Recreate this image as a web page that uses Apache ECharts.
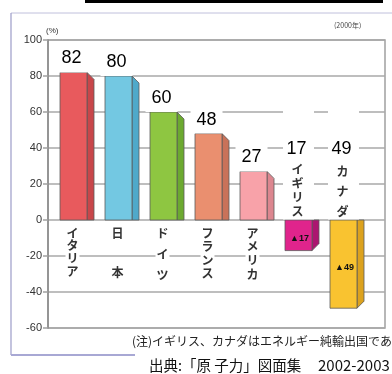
<!DOCTYPE html>
<html><head><meta charset="utf-8">
<script src="https://cdn.jsdelivr.net/npm/echarts@6/dist/echarts.min.js"></script>
<style>html,body{margin:0;padding:0;background:#fff}#c{width:392px;height:374px}</style>
</head><body><div id="c"></div>
<script>
// ---- data ----
const categories = ['イタリア', '日本', 'ドイツ', 'フランス', 'アメリカ', 'イギリス', 'カナダ'];
const values = [82, 80, 60, 48, 27, -17, -49];
const valueLabels = ['82', '80', '60', '48', '27', '17', '49'];
const innerLabels = ['', '', '', '', '', '▲17', '▲49'];
const yMin = -60, yMax = 100, yStep = 20;
const unitLabel = '(%)';
const yearLabel = '(2000年)';
const noteText = '(注)イギリス、カナダはエネルギー純輸出国である。';
const sourceText = '出典:「原 子力」図面集';
const sourceYears = '2002-2003';

// ---- styles ----
const faceColors = ['#e85a5d', '#73c8e2', '#8ec641', '#ea8f6f', '#f8a2a9', '#e0248c', '#f9c330'];
const sideColors = ['#c8464a', '#4fa9ca', '#6ca930', '#c97259', '#dc868f', '#ac1670', '#dca21e'];
const charSpacing = [12.7, 39, 21, 13.5, 13.7, 14, 20];
const CJK = '"Noto Sans CJK JP", "Noto Sans", sans-serif';
const LAT = '"Liberation Sans", Arial, sans-serif';

const chart = echarts.init(document.getElementById('c'), null, {renderer: 'canvas'});

function renderItem(params, api) {
  const i = api.value(0), v = api.value(1);
  const p0 = api.coord([i, 0]);
  const pv = api.coord([i, v]);
  const cx = p0[0];
  const y0 = p0[1], yv = pv[1];
  const fw = 27, d = 7;
  const x0 = cx - 17.5, x1 = x0 + fw, fc = x0 + fw / 2;
  const stroke = '#5a5a5a';
  const kids = [];
  if (v >= 0) {
    kids.push({type: 'polygon', shape: {points: [[x1, yv], [x1 + d, yv + d], [x1 + d, y0], [x1, y0]]},
      style: {fill: sideColors[i], stroke: stroke, lineWidth: 0.8}});
    kids.push({type: 'rect', shape: {x: x0, y: yv, width: fw, height: y0 - yv},
      style: {fill: faceColors[i], stroke: stroke, lineWidth: 0.8}});
    kids.push({type: 'text', style: {x: fc - 2, y: yv - 14, text: valueLabels[i], font: '18px ' + LAT,
      fill: '#000', align: 'center', verticalAlign: 'middle', backgroundColor: '#fff', padding: [5, 6, 5, 6]}});
    const chars = Array.from(categories[i]);
    chars.forEach((ch, k) => {
      kids.push({type: 'text', style: {x: fc - 1, y: y0 + 13 + k * charSpacing[i], text: ch,
        font: 'bold 12px ' + CJK, fill: '#333', align: 'center', verticalAlign: 'middle',
        backgroundColor: '#fff', padding: [0, 1]}});
    });
  } else {
    kids.push({type: 'polygon', shape: {points: [[x1, y0], [x1 + d, y0], [x1 + d, yv - d], [x1, yv]]},
      style: {fill: sideColors[i], stroke: stroke, lineWidth: 0.8}});
    kids.push({type: 'rect', shape: {x: x0, y: y0, width: fw, height: yv - y0},
      style: {fill: faceColors[i], stroke: stroke, lineWidth: 0.8}});
    kids.push({type: 'rect', shape: {x: x0 - 2, y: y0 - 109, width: fw + 4, height: 108.5},
      style: {fill: '#fff'}});
    kids.push({type: 'text', style: {x: fc - 2, y: y0 - 71, text: valueLabels[i], font: '18px ' + LAT,
      fill: '#000', align: 'center', verticalAlign: 'middle'}});
    const chars = Array.from(categories[i]);
    const n = chars.length;
    chars.forEach((ch, k) => {
      kids.push({type: 'text', style: {x: fc - 1, y: y0 - 9 - (n - 1 - k) * charSpacing[i], text: ch,
        font: 'bold 12px ' + CJK, fill: '#333', align: 'center', verticalAlign: 'middle'}});
    });
    kids.push({type: 'text', style: {x: fc + 1, y: (y0 + yv) / 2 + 3, text: innerLabels[i],
      font: 'bold 9px ' + LAT, fill: '#111', align: 'center', verticalAlign: 'middle'}});
  }
  return {type: 'group', children: kids};
}

const option = {
  animation: false,
  backgroundColor: '#fff',
  grid: [
    {left: 48, right: 7, top: 40, bottom: 46, show: true, borderColor: '#a0a0a0', borderWidth: 1.5, backgroundColor: '#fff'},
    {left: 55, right: 22, top: 40, bottom: 46}
  ],
  xAxis: [
    {gridIndex: 0, type: 'category', data: [''], show: false},
    {gridIndex: 1, type: 'category', data: categories, show: false}
  ],
  yAxis: [
    {gridIndex: 0, type: 'value', min: yMin, max: yMax, interval: yStep,
      axisLine: {show: true, lineStyle: {color: '#8a8a8a', width: 1.5}},
      axisTick: {show: true, length: 5, lineStyle: {color: '#a0a0a0', width: 1.5}},
      splitLine: {lineStyle: {color: '#a8a8a8', width: 1.5}},
      axisLabel: {color: '#333', fontSize: 11, fontFamily: LAT, margin: 6}},
    {gridIndex: 1, type: 'value', min: yMin, max: yMax, interval: yStep, show: false, splitLine: {show: false}}
  ],
  series: [{
    type: 'custom', xAxisIndex: 1, yAxisIndex: 1, clip: false,
    data: values.map((v, i) => [i, v]),
    encode: {x: 0, y: 1},
    renderItem: renderItem
  }],
  graphic: [
    {type: 'rect', shape: {x: 85, y: 0, width: 298, height: 3}, style: {fill: '#000'}},
    {type: 'line', shape: {x1: 11, y1: 13, x2: 392, y2: 13}, style: {stroke: '#c0c0dc', lineWidth: 1}},
    {type: 'line', shape: {x1: 11, y1: 13, x2: 11, y2: 355}, style: {stroke: '#9c9cc8', lineWidth: 1.2}},
    {type: 'line', shape: {x1: 11, y1: 355, x2: 135, y2: 355}, style: {stroke: '#a8a8d4', lineWidth: 2}},
    {type: 'text', style: {x: 46, y: 31, text: unitLabel, font: '8px ' + LAT, fill: '#333', verticalAlign: 'middle'}},
    {type: 'text', style: {x: 334, y: 25, text: yearLabel, font: '7px ' + CJK, fill: '#444', verticalAlign: 'middle'}},
    {type: 'text', style: {x: 132, y: 341, text: noteText, font: '12px ' + CJK, fill: '#222', verticalAlign: 'middle'}},
    {type: 'text', style: {x: 149, y: 365, text: sourceText, font: '14.5px ' + CJK, fill: '#111', verticalAlign: 'middle'}},
    {type: 'text', style: {x: 318, y: 365, text: sourceYears, font: '15px ' + CJK, fill: '#111', verticalAlign: 'middle'}}
  ]
};
chart.setOption(option);
</script>
</body></html>
